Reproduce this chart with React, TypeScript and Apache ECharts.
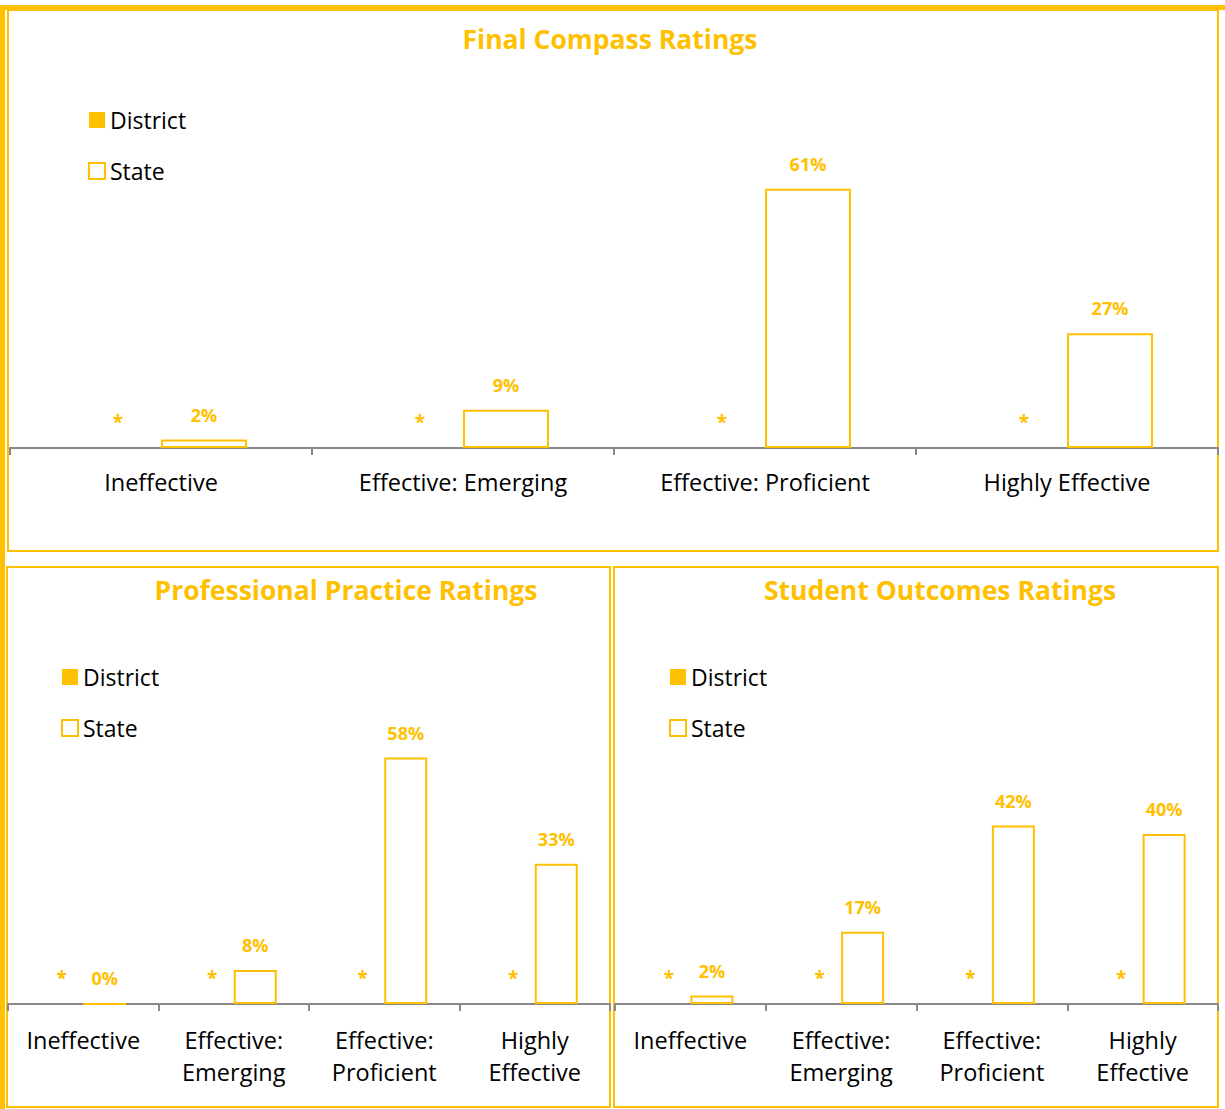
import React, { useEffect, useRef } from "react";
import * as echarts from "echarts";

// ---- data ----
const categoriesWide = ["Ineffective", "Effective: Emerging", "Effective: Proficient", "Highly Effective"];
const categoriesNarrow = ["Ineffective", "Effective:\nEmerging", "Effective:\nProficient", "Highly\nEffective"];
const chartTitles = ["Final Compass Ratings", "Professional Practice Ratings", "Student Outcomes Ratings"];
const seriesNames = ["District", "State"];
const finalState = [2, 9, 61, 27];
const practiceState = [0, 8, 58, 33];
const outcomesState = [2, 17, 42, 40];
// District values are suppressed in the source (shown as "*")
const districtSuppressed = ["*", "*", "*", "*"];
const districtPlaceholder = [0, 0, 0, 0];

const YELLOW = "#FFC000";
const FONT = "'Open Sans', Lato, sans-serif";

type Panel = {
  rect: [number, number, number, number];
  titleX: number;
  titleTop: number;
  legendLeft: number;
  legendTop: number;
  gridLeft: number;
  gridWidth: number;
  gridTop: number;
  barWidth: number;
  cats: string[];
  state: number[];
  labelMargin: number;
};

const panels: Panel[] = [
  {
    rect: [8, 10, 1210, 541],
    titleX: 610,
    titleTop: 24,
    legendLeft: 88,
    legendTop: 108,
    gridLeft: 10,
    gridWidth: 1208,
    gridTop: 23,
    barWidth: 86,
    cats: categoriesWide,
    state: finalState,
    labelMargin: 18,
  },
  {
    rect: [7, 567, 603, 540],
    titleX: 346,
    titleTop: 575,
    legendLeft: 61,
    legendTop: 665,
    gridLeft: 8,
    gridWidth: 602,
    gridTop: 579,
    barWidth: 43,
    cats: categoriesNarrow,
    state: practiceState,
    labelMargin: 20,
  },
  {
    rect: [614, 567, 604, 540],
    titleX: 940,
    titleTop: 575,
    legendLeft: 669,
    legendTop: 665,
    gridLeft: 615,
    gridWidth: 603,
    gridTop: 579,
    barWidth: 43,
    cats: categoriesNarrow,
    state: outcomesState,
    labelMargin: 20,
  },
];

export default function App() {
  const ref = useRef<HTMLDivElement>(null);

  useEffect(() => {
    if (!ref.current) return;
    const chart = echarts.init(ref.current, null, { renderer: "svg" });
    const GRID_H = 425;

    const option: any = {
      animation: false,
      backgroundColor: "#ffffff",
      textStyle: { fontFamily: FONT },
      title: panels.map((p, i) => ({
        text: chartTitles[i],
        left: p.titleX,
        top: p.titleTop,
        padding: 0,
        textAlign: "center",
        textStyle: { color: YELLOW, fontSize: 26.5, fontWeight: "bold", fontFamily: FONT, lineHeight: 30 },
      })),
      legend: panels.map((p) => ({
        orient: "vertical",
        left: p.legendLeft,
        top: p.legendTop,
        padding: 0,
        itemWidth: 16,
        itemHeight: 16,
        itemGap: 27,
        selectedMode: false,
        textStyle: { color: "#000", fontSize: 23, fontFamily: FONT, lineHeight: 24 },
        data: [
          { name: seriesNames[0], icon: "rect", itemStyle: { color: YELLOW } },
          {
            name: seriesNames[1],
            icon: "rect",
            itemStyle: { color: "#ffffff", borderColor: YELLOW, borderWidth: 2 },
          },
        ],
      })),
      grid: panels.map((p) => ({
        left: p.gridLeft,
        top: p.gridTop,
        width: p.gridWidth,
        height: GRID_H,
        containLabel: false,
      })),
      xAxis: panels.map((p, i) => ({
        type: "category",
        gridIndex: i,
        data: p.cats,
        axisLine: { show: true, lineStyle: { color: "#898989", width: 2 } },
        axisTick: { show: true, length: 7, lineStyle: { color: "#898989", width: 2 } },
        axisLabel: {
          color: "#000",
          fontSize: 23.5,
          lineHeight: 32,
          fontFamily: FONT,
          margin: p.labelMargin,
          interval: 0,
        },
      })),
      yAxis: panels.map((p, i) => ({
        type: "value",
        gridIndex: i,
        min: 0,
        max: 100,
        show: false,
      })),
      graphic: [
        { type: "rect", shape: { x: 0, y: 5, width: 1225, height: 5 }, style: { fill: YELLOW } },
        { type: "rect", shape: { x: 0, y: 5, width: 5, height: 1104 }, style: { fill: YELLOW } },
        ...panels.map((p) => ({
          type: "rect",
          shape: { x: p.rect[0], y: p.rect[1], width: p.rect[2], height: p.rect[3] },
          style: { fill: "none", stroke: YELLOW, lineWidth: 2 },
          silent: true,
        })),
      ],
      series: panels.flatMap((p, i) => [
        {
          name: seriesNames[0],
          type: "bar",
          xAxisIndex: i,
          yAxisIndex: i,
          barWidth: p.barWidth,
          barGap: "0%",
          data: districtPlaceholder,
          itemStyle: { color: YELLOW },
          label: {
            show: true,
            position: "top",
            distance: 17,
            color: YELLOW,
            fontWeight: "bold",
            fontSize: 19,
            fontFamily: FONT,
            formatter: (d: any) => districtSuppressed[d.dataIndex],
          },
        },
        {
          name: seriesNames[1],
          type: "bar",
          xAxisIndex: i,
          yAxisIndex: i,
          barWidth: p.barWidth,
          barGap: "0%",
          data: p.state,
          itemStyle: { color: "#ffffff", borderColor: YELLOW, borderWidth: 2 },
          label: {
            show: true,
            position: "top",
            distance: 16,
            color: YELLOW,
            fontWeight: "bold",
            fontSize: 18,
            fontFamily: FONT,
            formatter: "{c}%",
          },
        },
      ]),
    };

    chart.setOption(option);
    return () => chart.dispose();
  }, []);

  return (
    <div
      ref={ref}
      style={{ position: "absolute", left: 0, top: 0, width: 1225, height: 1109, background: "#fff" }}
    />
  );
}
